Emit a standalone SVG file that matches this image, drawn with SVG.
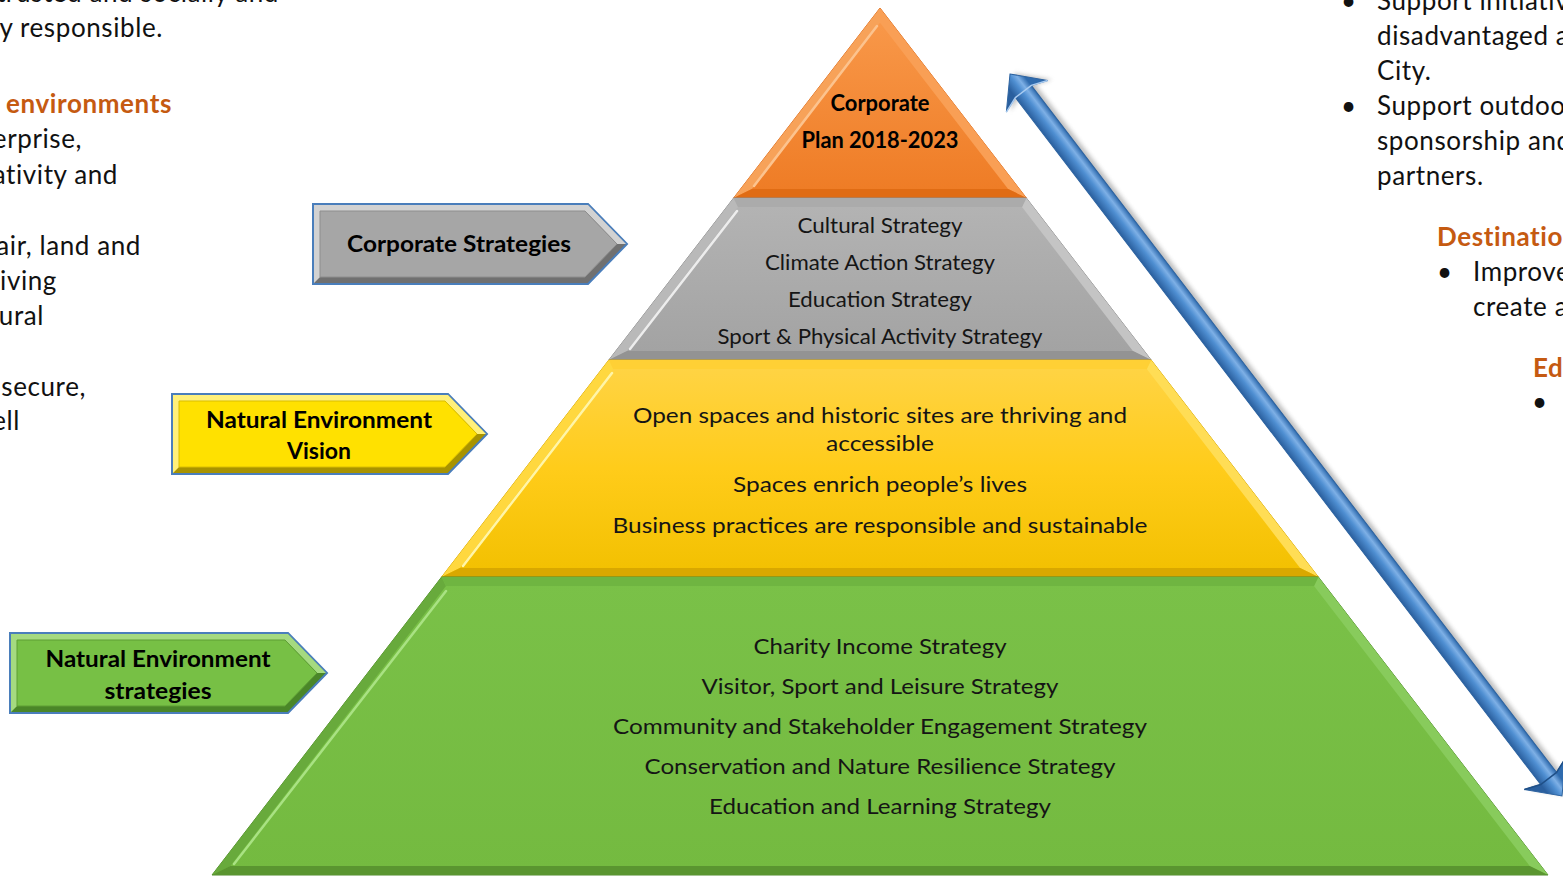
<svg xmlns="http://www.w3.org/2000/svg" width="1563" height="879" viewBox="0 0 1563 879">
<defs>
<style>
text{font-family:Lato,"Liberation Sans","DejaVu Sans",sans-serif}
.c{font-size:22px;fill:#151515;text-anchor:middle}
.cb{font-size:22px;font-weight:bold;fill:#000;text-anchor:middle}
.s{font-size:26px;fill:#111;letter-spacing:0.6px}
.h{font-size:26px;font-weight:bold;fill:#C55A11;letter-spacing:0.6px}
.e{text-anchor:end}
.lab{stroke:#4A7EBB;stroke-width:2;stroke-linejoin:miter}
.hl{fill:none;stroke-width:2.5;stroke-linecap:round}
</style>
<linearGradient id="gOr" x1="0" y1="0" x2="0" y2="1"><stop offset="0" stop-color="#F99A4C"/><stop offset="1" stop-color="#EE7B24"/></linearGradient>
<linearGradient id="gGy" x1="0" y1="0" x2="0" y2="1"><stop offset="0" stop-color="#B4B4B4"/><stop offset="1" stop-color="#A2A2A2"/></linearGradient>
<linearGradient id="gYe" x1="0" y1="0" x2="0" y2="1"><stop offset="0" stop-color="#FFD447"/><stop offset="0.5" stop-color="#FFCC1A"/><stop offset="1" stop-color="#F2C000"/></linearGradient>
<linearGradient id="gGr" x1="0" y1="0" x2="0" y2="1"><stop offset="0" stop-color="#7AC148"/><stop offset="1" stop-color="#74BA40"/></linearGradient>
<linearGradient id="gBl" gradientUnits="userSpaceOnUse" x1="0" y1="-10" x2="0" y2="10"><stop offset="0" stop-color="#2F6BAE"/><stop offset="0.3" stop-color="#7EB0E6"/><stop offset="0.55" stop-color="#4F8FD2"/><stop offset="1" stop-color="#2A5F9E"/></linearGradient>
<filter id="sh" x="-10%" y="-10%" width="120%" height="120%"><feGaussianBlur stdDeviation="2"/></filter>
</defs>
<rect width="1563" height="879" fill="#fff"/>

<g id="side-text-left">
<text class="s e" x="279" y="2">trusted and socially and</text>
<text class="s e" x="163" y="37">y responsible.</text>
<text class="h e" x="172" y="113">environments</text>
<text class="s e" x="82" y="148">erprise,</text>
<text class="s e" x="118" y="184">ativity and</text>
<text class="s e" x="141" y="255">air, land and</text>
<text class="s e" x="57" y="290">riving</text>
<text class="s e" x="44" y="325">ural</text>
<text class="s e" x="86" y="396">secure,</text>
<text class="s e" x="20" y="430">ell</text>
</g>

<g id="side-text-right">
<text class="s" x="1341" y="10">•</text>
<text class="s" x="1377" y="10">Support initiativ</text>
<text class="s" x="1377" y="45">disadvantaged a</text>
<text class="s" x="1377" y="80">City.</text>
<text class="s" x="1341" y="115">•</text>
<text class="s" x="1377" y="115">Support outdoo</text>
<text class="s" x="1377" y="150">sponsorship and</text>
<text class="s" x="1377" y="185">partners.</text>
<text class="h" x="1437" y="246">Destinatio</text>
<text class="s" x="1437" y="281">•</text>
<text class="s" x="1473" y="281">Improve</text>
<text class="s" x="1473" y="316">create a</text>
<text class="h" x="1533" y="377">Ed</text>
<text class="s" x="1532" y="411">•</text>
</g>

<g id="band-corporate-plan">
<polygon points="880,8 1026.4,198 733.6,198" fill="url(#gOr)" stroke="#D9691A" stroke-width="1"/>
<polygon points="880,8 733.6,198 751.9,189 880,22.7" fill="#F7A259"/>
<polygon points="880,8 1026.4,198 1008.1,189 880,22.7" fill="#F99F55"/>
<polygon points="733.6,198 1026.4,198 1008.1,189 751.9,189" fill="#E06C14"/>
<line class="hl" x1="877" y1="26" x2="754" y2="186" stroke="#FCC38E"/>
<text class="cb" x="880" y="111" textLength="99" lengthAdjust="spacingAndGlyphs">Corporate</text>
<text class="cb" x="880" y="148" textLength="157" lengthAdjust="spacingAndGlyphs">Plan 2018-2023</text>
</g>

<g id="band-corporate-strategies">
<polygon points="733.6,198 1026.4,198 1151.2,360 608.8,360" fill="url(#gGy)" stroke="#8A8A8A" stroke-width="1"/>
<polygon points="733.6,198 738.0,207 627.1,351 608.8,360" fill="#B9B9B9"/>
<polygon points="1026.4,198 1151.2,360 1132.9,351 1022.0,207" fill="#C4C4C4"/>
<polygon points="608.8,360 1151.2,360 1132.9,351 627.1,351" fill="#939393"/>
<polygon points="733.6,198 1026.4,198 1022.0,207 738.0,207" fill="#ABABAB"/>
<line class="hl" x1="737" y1="211" x2="630" y2="349" stroke="#EDEDED"/>
<text class="c" x="880" y="233" textLength="165" lengthAdjust="spacingAndGlyphs">Cultural Strategy</text>
<text class="c" x="880" y="270" textLength="230" lengthAdjust="spacingAndGlyphs">Climate Action Strategy</text>
<text class="c" x="880" y="307" textLength="184" lengthAdjust="spacingAndGlyphs">Education Strategy</text>
<text class="c" x="880" y="344" textLength="325" lengthAdjust="spacingAndGlyphs">Sport &amp; Physical Activity Strategy</text>
</g>

<g id="band-vision">
<polygon points="608.8,360 1151.2,360 1318.4,577 441.6,577" fill="url(#gYe)" stroke="#D4A500" stroke-width="1"/>
<polygon points="608.8,360 613.2,369 459.9,568 441.6,577" fill="#FFD83F"/>
<polygon points="1151.2,360 1318.4,577 1300.1,568 1146.8,369" fill="#FFDD55"/>
<polygon points="441.6,577 1318.4,577 1300.1,568 459.9,568" fill="#D9A800"/>
<polygon points="608.8,360 1151.2,360 1146.8,369 613.2,369" fill="#FFD035"/>
<line class="hl" x1="612" y1="373" x2="463" y2="566" stroke="#FFF5A8"/>
<text class="c" x="880" y="423" textLength="494" lengthAdjust="spacingAndGlyphs">Open spaces and historic sites are thriving and</text>
<text class="c" x="880" y="451" textLength="108" lengthAdjust="spacingAndGlyphs">accessible</text>
<text class="c" x="880" y="492" textLength="294" lengthAdjust="spacingAndGlyphs">Spaces enrich people’s lives</text>
<text class="c" x="880" y="533" textLength="535" lengthAdjust="spacingAndGlyphs">Business practices are responsible and sustainable</text>
</g>

<g id="band-ne-strategies">
<polygon points="441.6,577 1318.4,577 1548,875 212,875" fill="url(#gGr)" stroke="#4F8A2B" stroke-width="1"/>
<polygon points="441.6,577 446.0,586 230.3,866 212,875" fill="#68AA3C"/>
<polygon points="1318.4,577 1548,875 1529.7,866 1314.0,586" fill="#88CB5C"/>
<polygon points="212,875 1548,875 1529.7,866 230.3,866" fill="#5A9530"/>
<polygon points="441.6,577 1318.4,577 1314.0,586 446.0,586" fill="#6FB541"/>
<line class="hl" x1="446" y1="591" x2="234" y2="864" stroke="#A9E283"/>
<text class="c" x="880" y="654" textLength="253" lengthAdjust="spacingAndGlyphs">Charity Income Strategy</text>
<text class="c" x="880" y="694" textLength="357" lengthAdjust="spacingAndGlyphs">Visitor, Sport and Leisure Strategy</text>
<text class="c" x="880" y="734" textLength="534" lengthAdjust="spacingAndGlyphs">Community and Stakeholder Engagement Strategy</text>
<text class="c" x="880" y="774" textLength="471" lengthAdjust="spacingAndGlyphs">Conservation and Nature Resilience Strategy</text>
<text class="c" x="880" y="814" textLength="342" lengthAdjust="spacingAndGlyphs">Education and Learning Strategy</text>
</g>

<g id="label-corporate-strategies" transform="translate(313,204)">
<polygon class="lab" points="0,0 275,0 314,40 275,80 0,80" fill="#707070"/>
<polygon points="1,1 275,1 313,40 304,40 272,7 7,7 7,73 1,79" fill="#D2D2D2"/>
<polygon points="7,7 272,7 304,40 272,73 7,73" fill="#A6A6A6" stroke="#8E8E8E" stroke-width="1"/>
<text class="cb" x="146" y="48" textLength="224" lengthAdjust="spacingAndGlyphs">Corporate Strategies</text>
</g>

<g id="label-vision" transform="translate(172,394)">
<polygon class="lab" points="0,0 276,0 315,40 276,80 0,80" fill="#A89300"/>
<polygon points="1,1 276,1 314,40 305,40 273,7 7,7 7,73 1,79" fill="#FFF07A"/>
<polygon points="7,7 273,7 305,40 273,73 7,73" fill="#FFE100" stroke="#D9BE00" stroke-width="1"/>
<text class="cb" x="147" y="34" textLength="226" lengthAdjust="spacingAndGlyphs">Natural Environment</text>
<text class="cb" x="147" y="65" textLength="64" lengthAdjust="spacingAndGlyphs">Vision</text>
</g>

<g id="label-ne-strategies" transform="translate(10,633)">
<polygon class="lab" points="0,0 278,0 317,40 278,80 0,80" fill="#4A8628"/>
<polygon points="1,1 278,1 316,40 307,40 275,7 7,7 7,73 1,79" fill="#A5DA80"/>
<polygon points="7,7 275,7 307,40 275,73 7,73" fill="#77C045" stroke="#5E9E35" stroke-width="1"/>
<text class="cb" x="148" y="34" textLength="225" lengthAdjust="spacingAndGlyphs">Natural Environment</text>
<text class="cb" x="148" y="66" textLength="107" lengthAdjust="spacingAndGlyphs">strategies</text>
</g>

<g id="connectors">
<g id="double-arrow" transform="translate(1010,74) rotate(52.6)">
<polygon transform="translate(2,-4)" points="0,0 28,-26 22,-10 886.8,-10 880.8,-26 908.8,0 880.8,26 886.8,10 22,10 28,26" fill="#8C8C8C" opacity="0.55" filter="url(#sh)"/>
<polygon points="0,0 28,-26 22,-10 886.8,-10 880.8,-26 908.8,0 880.8,26 886.8,10 22,10 28,26" fill="url(#gBl)" stroke="#2D63A0" stroke-width="1"/>
<polyline points="28,-26 22,-10 22,10 28,26" fill="none" stroke="#A9CBF0" stroke-width="1.5"/>
<polyline points="880.8,-26 886.8,-10 886.8,10 880.8,26" fill="none" stroke="#1F4F87" stroke-width="1.5"/>
</g>
</g>
</svg>
